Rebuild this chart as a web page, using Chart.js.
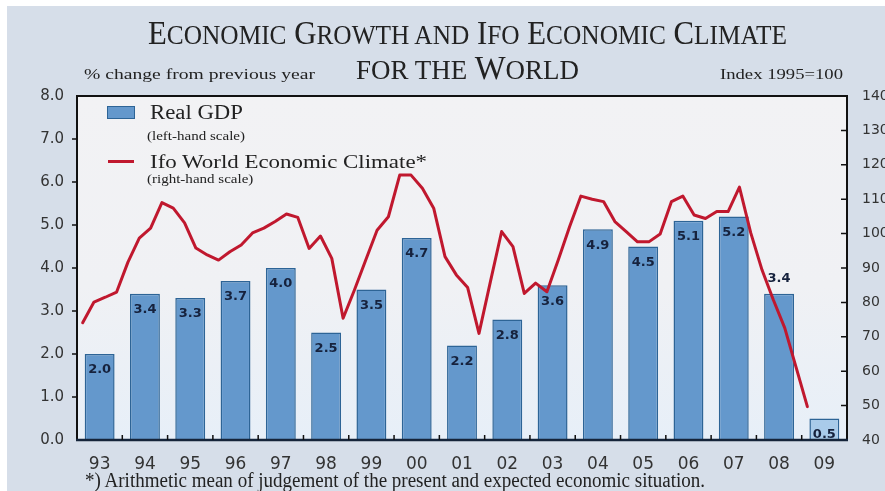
<!DOCTYPE html>
<html><head><meta charset="utf-8">
<script src="https://cdn.jsdelivr.net/npm/chart.js@4.4.0/dist/chart.umd.min.js"></script>
<style>
html,body{margin:0;padding:0;background:#fff;}
#wrap{position:relative;width:885px;height:491px;overflow:hidden;background:#fff;}
#bg{position:absolute;left:7px;top:6px;right:0;bottom:0;background:#d6dee9;}
canvas{position:absolute;left:0;top:0;}
.t{position:absolute;font-family:'Liberation Serif','Times New Roman',serif;color:#222;white-space:nowrap;line-height:1;transform-origin:0 0;}
.s{font-size:28px;}
</style></head><body>
<div id="wrap">
<div id="bg"></div>
<canvas id="c" width="885" height="491"></canvas>
<div class="t fit" data-l="148" data-r="787" style="top:15.8px;font-size:34px;">E<span class="s">CONOMIC</span> G<span class="s">ROWTH AND</span> I<span class="s">FO</span> E<span class="s">CONOMIC</span> C<span class="s">LIMATE</span></div>
<div class="t fit" data-l="356" data-r="579" style="top:50.5px;font-size:34px;"><span class="s">FOR THE</span> W<span class="s">ORLD</span></div>
<div class="t fit" data-l="84" data-r="315" style="top:67.4px;font-size:15px;">% change from previous year</div>
<div class="t fit" data-l="720" data-r="843" style="top:67.4px;font-size:15px;">Index 1995=100</div>
<div class="t fit" data-l="85" data-r="705" style="top:470px;font-size:20px;">*) Arithmetic mean of judgement of the present and expected economic situation.</div>
<div style="position:absolute;left:107px;top:106px;width:26px;height:11px;background:#6498cc;border:1px solid #2d6496;"></div>
<div class="t fit" data-l="150" data-r="243" style="top:101.6px;font-size:20px;">Real GDP</div>
<div class="t fit" id="lh" data-l="147" data-r="245" style="top:130.9px;font-size:11.5px;">(left-hand scale)</div>
<div style="position:absolute;left:108px;top:160px;width:26px;height:3px;background:#c0182e;"></div>
<div class="t fit" data-l="150" data-r="427" style="top:152.4px;font-size:19px;">Ifo World Economic Climate*</div>
<div class="t" id="rh" style="left:147px;top:173.7px;font-size:11.5px;">(right-hand scale)</div>
</div>
<script>
const years = ['93','94','95','96','97','98','99','00','01','02','03','04','05','06','07','08','09'];
const gdpValues = [2.0,3.4,3.3,3.7,4.0,2.5,3.5,4.7,2.2,2.8,3.6,4.9,4.5,5.1,5.2,3.4,0.5];
const gdpLabels = ['2.0','3.4','3.3','3.7','4.0','2.5','3.5','4.7','2.2','2.8','3.6','4.9','4.5','5.1','5.2','3.4','0.5'];
// Ifo World Economic Climate, quarterly from 1993 Q1 to 2009 Q1
const ifoQuarterly = [
  74.1,80.1,81.5,83.0,
  91.7,98.7,101.6,109.0,
  107.4,103.1,95.8,93.8,
  92.3,94.7,96.7,100.2,
  101.6,103.5,105.7,104.7,
  95.7,99.3,92.8,75.4,
  83.6,92.3,101.0,104.9,
  117.0,117.0,113.2,107.4,
  93.3,88.0,84.3,71.0,
  85.9,100.6,96.2,82.6,
  85.6,83.1,92.3,102.0,
  110.9,110.0,109.3,103.5,
  100.6,97.6,97.6,99.9,
  109.3,110.9,105.4,104.4,
  106.4,106.4,113.5,100.2,
  89.4,80.7,72.6,61.2,
  49.7
];
const leftTickRange = [0, 8, 1];
const rightTickRange = [40, 140, 10];

// fit text widths
document.querySelectorAll('.fit').forEach(el=>{
  const l = +el.dataset.l, r = +el.dataset.r;
  const w = el.getBoundingClientRect().width;
  const k = (r-l)/w;
  el.style.left = l+'px';
  el.style.transform = 'scaleX('+k+')';
  el.dataset.k = k;
});
document.getElementById('rh').style.transform = 'scaleX('+document.getElementById('lh').dataset.k+')';

const gdpPoints = gdpValues.map((v,i)=>({x:i, y:v}));
const ifoPoints = ifoQuarterly.map((v,i)=>({x: i/4 - 0.375, y: v}));
const barFill = years.map((y,i)=> i===years.length-1 ? '#a9cbea' : '#6498cc');

const plotBg = {
  id:'plotBg',
  beforeDraw(chart){
    const {ctx, chartArea:a} = chart;
    ctx.save();
    const g = ctx.createLinearGradient(0,a.top,0,a.bottom);
    g.addColorStop(0,'#f2f2f4');
    g.addColorStop(0.55,'#f0f1f4');
    g.addColorStop(1,'#e7eff8');
    ctx.fillStyle = g;
    ctx.fillRect(a.left, a.top, a.right-a.left, a.bottom-a.top);
    ctx.restore();
  }
};
const frame = {
  id:'frame',
  afterDraw(chart){
    const {ctx, chartArea:a, scales} = chart;
    ctx.save();
    ctx.strokeStyle = '#111';
    ctx.lineWidth = 2;
    ctx.beginPath();
    ctx.moveTo(a.left, a.bottom); ctx.lineTo(a.left, a.top); ctx.lineTo(a.right, a.top); ctx.lineTo(a.right, a.bottom);
    ctx.stroke();
    ctx.strokeStyle = '#15243a';
    ctx.lineWidth = 2.5;
    ctx.beginPath(); ctx.moveTo(a.left-1, a.bottom); ctx.lineTo(a.right+1, a.bottom); ctx.stroke();
    ctx.lineWidth = 1.5;
    ctx.strokeStyle = '#111';
    ctx.beginPath();
    scales.y.ticks.forEach(t=>{ const y = scales.y.getPixelForValue(t.value); if (t.value>0 && t.value<8){ctx.moveTo(a.left-5,y); ctx.lineTo(a.left,y);} });
    scales.y2.ticks.forEach(t=>{ const y = scales.y2.getPixelForValue(t.value); if (t.value>40 && t.value<140){ctx.moveTo(a.right-6,y); ctx.lineTo(a.right,y);} });
    for (let i=1;i<years.length;i++){ const x = scales.x.getPixelForValue(i-0.5); ctx.moveTo(x,a.bottom); ctx.lineTo(x,a.bottom-5); }
    ctx.stroke();
    ctx.restore();
  }
};
const barLabels = {
  id:'barLabels',
  afterDatasetsDraw(chart){
    const {ctx} = chart;
    const meta = chart.getDatasetMeta(0);
    ctx.save();
    ctx.font = 'bold 13px "DejaVu Sans"';
    ctx.fillStyle = '#16223d';
    ctx.textAlign = 'center';
    ctx.textBaseline = 'middle';
    meta.data.forEach((bar,i)=>{
      const y = (i===15) ? bar.y - 15 : bar.y + 16;
      ctx.fillText(gdpLabels[i], bar.x, y);
    });
    ctx.restore();
  }
};

new Chart(document.getElementById('c'), {
  type:'bar',
  data:{
    datasets:[
      {type:'bar', label:'Real GDP', data: gdpPoints, xAxisID:'x', yAxisID:'y', backgroundColor: barFill, borderColor:'#2d6496', borderWidth:1.5, barPercentage:0.66, categoryPercentage:1, grouped:false, order:1},
      {type:'line', label:'Ifo World Economic Climate*', data: ifoPoints, xAxisID:'x', yAxisID:'y2', borderColor:'#c0182e', borderWidth:3, pointRadius:0, tension:0, fill:false, order:0, borderJoinStyle:'round', borderCapStyle:'round'}
    ]
  },
  options:{
    responsive:false, animation:false, devicePixelRatio:1,
    layout:{padding:{top:96,left:0,right:0,bottom:0}},
    plugins:{legend:{display:false}, tooltip:{enabled:false}},
    scales:{
      x:{type:'linear', min:-0.5, max:years.length-0.5, offset:false, grid:{display:false, drawTicks:false}, border:{display:false},
         afterBuildTicks(s){ s.ticks = years.map((y,i)=>({value:i})); },
         ticks:{callback:(v)=>years[Math.round(v)], font:{family:'DejaVu Sans', size:17}, color:'#333', padding:14, maxRotation:0, autoSkip:false},
         afterFit(s){ s.height = 51; }},
      y:{position:'left', min:leftTickRange[0], max:leftTickRange[1], grid:{display:false, drawTicks:false}, border:{display:false},
         ticks:{stepSize:leftTickRange[2], callback:v=>v.toFixed(1), font:{family:'DejaVu Sans', size:15}, color:'#333', padding:13},
         afterFit(s){ s.width = 77; }},
      y2:{position:'right', min:rightTickRange[0], max:rightTickRange[1], grid:{display:false, drawTicks:false}, border:{display:false},
         ticks:{stepSize:rightTickRange[2], font:{family:'DejaVu Sans', size:14}, color:'#333', padding:15},
         afterFit(s){ s.width = 38; }}
    }
  },
  plugins:[plotBg, frame, barLabels]
});
</script>
</body></html>
